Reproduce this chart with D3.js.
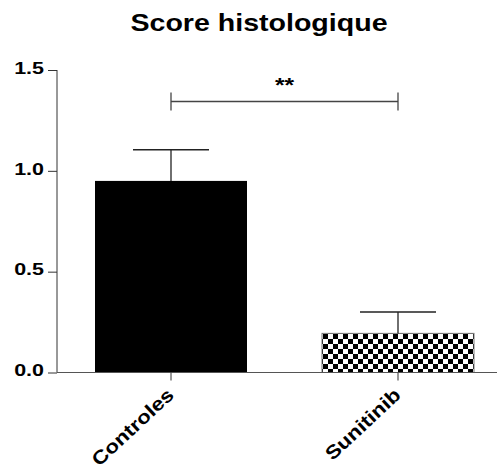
<!DOCTYPE html>
<html><head><meta charset="utf-8">
<script src="https://cdn.jsdelivr.net/npm/d3@7"></script>
<style>body{margin:0;background:#fff}svg{display:block}</style>
</head><body><svg id="c" width="500" height="470"></svg>
<script>
const categories = ["Controles", "Sunitinib"];
const means = [0.95, 0.194];
const errors = [0.155, 0.106];
const yTicks = [0.0, 0.5, 1.0, 1.5];
const title = "Score histologique";
const sigLabel = "**";

const svg = d3.select("#c");
const font = "Liberation Sans, Arial, sans-serif";
function stretch(k) {
  return sel => sel.each(function () {
    const w = this.getComputedTextLength();
    d3.select(this).attr("textLength", w * k).attr("lengthAdjust", "spacingAndGlyphs");
  });
}
const x0 = 57, x1 = 497;
const y = d3.scaleLinear().domain([0, 1.5]).range([372.5, 70]);
const x = d3.scaleBand().domain(categories).range([95, 474]).paddingInner(75 / 227).paddingOuter(0);

const defs = svg.append("defs");
const pat = defs.append("pattern").attr("id", "chk").attr("patternUnits", "userSpaceOnUse")
  .attr("width", 10).attr("height", 10).attr("x", 323).attr("y", 334);
pat.append("rect").attr("width", 10).attr("height", 10).attr("fill", "#fff");
pat.append("rect").attr("width", 5).attr("height", 5).attr("fill", "#000");
pat.append("rect").attr("x", 5).attr("y", 5).attr("width", 5).attr("height", 5).attr("fill", "#000");

svg.append("text").attr("x", 259).attr("y", 31).attr("text-anchor", "middle")
  .attr("font-family", font).attr("font-weight", "bold").attr("font-size", 24).text(title).call(stretch(1.19));

// bars
svg.selectAll("rect.bar").data(categories).join("rect").attr("class", "bar")
  .attr("x", d => x(d)).attr("width", x.bandwidth())
  .attr("y", (d, i) => y(means[i])).attr("height", (d, i) => y(0) - y(means[i]))
  .attr("fill", (d, i) => i === 0 ? "#000" : "url(#chk)")
  .attr("stroke", (d, i) => i === 0 ? "none" : "#777").attr("stroke-width", 1);

// error bars
categories.forEach((c, i) => {
  const cx = x(c) + x.bandwidth() / 2;
  const top = y(means[i] + errors[i]);
  svg.append("line").attr("x1", cx).attr("x2", cx).attr("y1", y(means[i])).attr("y2", top)
    .attr("stroke", "#222").attr("stroke-width", 1.3);
  svg.append("line").attr("x1", cx - x.bandwidth() / 4).attr("x2", cx + x.bandwidth() / 4)
    .attr("y1", top).attr("y2", top).attr("stroke", "#222").attr("stroke-width", 1.5);
});

// y axis
const ya = svg.append("g").attr("transform", `translate(${x0},0)`)
  .call(d3.axisLeft(y).tickValues(yTicks).tickFormat(d3.format(".1f")).tickSize(9).tickPadding(4));
ya.select(".domain").attr("d", `M0,${y(1.5)}V${y(0)}`).attr("stroke", "#333");
ya.selectAll(".tick line").attr("stroke", "#333");
ya.selectAll("text").attr("font-family", font).attr("font-weight", "bold").attr("font-size", 16.5).attr("fill", "#000")
  .attr("y", -2).call(stretch(1.3));

// x axis
const xa = svg.append("g").attr("transform", `translate(0,${y(0)})`)
  .call(d3.axisBottom(x).tickSize(8).tickSizeOuter(0));
xa.select(".domain").attr("d", `M${x0},0H${x1}`).attr("stroke", "#555");
xa.selectAll(".tick line").attr("stroke", "#333");
xa.selectAll("text").attr("font-family", font).attr("font-weight", "bold").attr("font-size", 19).attr("fill", "#000")
  .attr("text-anchor", "end").attr("dy", null).attr("y", 0)
  .attr("transform", "translate(4,24) rotate(-43)").call(stretch(1.17));

// significance
const sx1 = x(categories[0]) + x.bandwidth() / 2, sx2 = x(categories[1]) + x.bandwidth() / 2;
const sy = 101.5;
const sig = svg.append("g").attr("stroke", "#444").attr("stroke-width", 1.3);
sig.append("line").attr("x1", sx1).attr("x2", sx2).attr("y1", sy).attr("y2", sy);
sig.append("line").attr("x1", sx1).attr("x2", sx1).attr("y1", sy - 9).attr("y2", sy + 9);
sig.append("line").attr("x1", sx2).attr("x2", sx2).attr("y1", sy - 9).attr("y2", sy + 9);
svg.append("text").attr("x", (sx1 + sx2) / 2).attr("y", 92).attr("text-anchor", "middle")
  .attr("font-family", font).attr("font-weight", "bold").attr("font-size", 21).text(sigLabel).call(stretch(1.17));
</script></body></html>
